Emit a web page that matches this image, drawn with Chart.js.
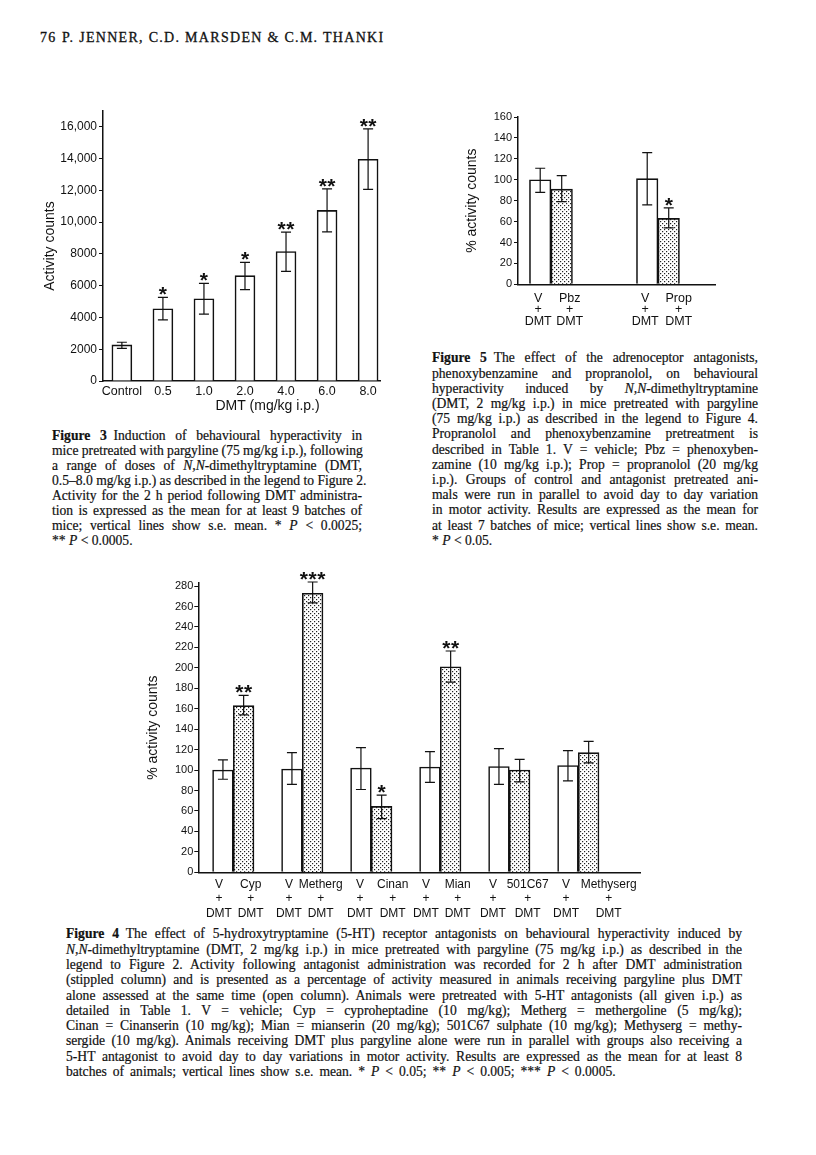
<!DOCTYPE html>
<html><head><meta charset="utf-8">
<script src="https://cdn.jsdelivr.net/npm/chart.js@4.4.0/dist/chart.umd.min.js"></script>
<style>
body{margin:0;background:#fff;}
#page{position:relative;width:816px;height:1155px;overflow:hidden;background:#fff;}
canvas{position:absolute;}
.cap{position:absolute;font-family:"Liberation Serif","Times New Roman",serif;font-size:13.6px;color:#111;-webkit-text-stroke:0.2px #111;}
.cap div{text-align:justify;text-align-last:justify;white-space:nowrap;}
.cap div.last{text-align:left;text-align-last:left;}
.hdr{position:absolute;font-family:"Liberation Serif","Times New Roman",serif;font-size:14px;letter-spacing:1.3px;color:#111;top:30px;-webkit-text-stroke:0.3px #111;}
</style></head>
<body><div id="page">
<div class="hdr" style="left:40px">76</div>
<div class="hdr" style="left:62px">P. JENNER, C.D. MARSDEN &amp; C.M. THANKI</div>

<canvas id="fig3" width="350" height="329" style="left:40px;top:91px;width:350px;height:329px"></canvas>
<canvas id="fig5" width="290" height="235" style="left:440px;top:97px;width:290px;height:235px"></canvas>
<canvas id="fig4" width="510" height="360" style="left:140px;top:563px;width:510px;height:360px"></canvas>

<div class="cap" style="left:52px;top:427.5px;width:310px;line-height:15.1px">
<div><b>Figure 3</b>&ensp;Induction of behavioural hyperactivity in</div>
<div>mice pretreated with pargyline (75 mg/kg i.p.), following</div>
<div>a range of doses of <i>N</i>,<i>N</i>-dimethyltryptamine (DMT,</div>
<div>0.5–8.0 mg/kg i.p.) as described in the legend to Figure 2.</div>
<div>Activity for the 2 h period following DMT administra-</div>
<div>tion is expressed as the mean for at least 9 batches of</div>
<div>mice; vertical lines show s.e. mean. * <i>P</i> &lt; 0.0025;</div>
<div class="last">** <i>P</i> &lt; 0.0005.</div>
</div>

<div class="cap" style="left:432px;top:350.4px;width:326px;line-height:15.2px">
<div><b>Figure 5</b>&ensp;The effect of the adrenoceptor antagonists,</div>
<div>phenoxybenzamine and propranolol, on behavioural</div>
<div>hyperactivity induced by <i>N</i>,<i>N</i>-dimethyltryptamine</div>
<div>(DMT, 2 mg/kg i.p.) in mice pretreated with pargyline</div>
<div>(75 mg/kg i.p.) as described in the legend to Figure 4.</div>
<div>Propranolol and phenoxybenzamine pretreatment is</div>
<div>described in Table 1. V = vehicle; Pbz = phenoxyben-</div>
<div>zamine (10 mg/kg i.p.); Prop = propranolol (20 mg/kg</div>
<div>i.p.). Groups of control and antagonist pretreated ani-</div>
<div>mals were run in parallel to avoid day to day variation</div>
<div>in motor activity. Results are expressed as the mean for</div>
<div>at least 7 batches of mice; vertical lines show s.e. mean.</div>
<div class="last">* <i>P</i> &lt; 0.05.</div>
</div>

<div class="cap" style="left:66px;top:926.4px;width:676px;line-height:15.3px">
<div><b>Figure 4</b>&ensp;The effect of 5-hydroxytryptamine (5-HT) receptor antagonists on behavioural hyperactivity induced by</div>
<div><i>N</i>,<i>N</i>-dimethyltryptamine (DMT, 2 mg/kg i.p.) in mice pretreated with pargyline (75 mg/kg i.p.) as described in the</div>
<div>legend to Figure 2. Activity following antagonist administration was recorded for 2 h after DMT administration</div>
<div>(stippled column) and is presented as a percentage of activity measured in animals receiving pargyline plus DMT</div>
<div>alone assessed at the same time (open column). Animals were pretreated with 5-HT antagonists (all given i.p.) as</div>
<div>detailed in Table 1. V = vehicle; Cyp = cyproheptadine (10 mg/kg); Metherg = methergoline (5 mg/kg);</div>
<div>Cinan = Cinanserin (10 mg/kg); Mian = mianserin (20 mg/kg); 501C67 sulphate (10 mg/kg); Methyserg = methy-</div>
<div>sergide (10 mg/kg). Animals receiving DMT plus pargyline alone were run in parallel with groups also receiving a</div>
<div>5-HT antagonist to avoid day to day variations in motor activity. Results are expressed as the mean for at least 8</div>
<div class="last" style="word-spacing:2.6px">batches of animals; vertical lines show s.e. mean. * <i>P</i> &lt; 0.05; ** <i>P</i> &lt; 0.005; *** <i>P</i> &lt; 0.0005.</div>
</div>
</div>

<script>
// ---------- Figure 3 data ----------
const fig3Doses = ["Control", "0.5", "1.0", "2.0", "4.0", "6.0", "8.0"];
const fig3Means = [2270, 4550, 5180, 6630, 8150, 10740, 13960];
const fig3ErrHigh = [2440, 5260, 6150, 7470, 9370, 12100, 15870];
const fig3ErrLow = [2060, 3850, 4210, 5750, 6900, 9390, 12060];
const fig3Sig = ["", "*", "*", "*", "**", "**", "**"];

// ---------- Figure 5 data ----------
const fig5Drugs = ["Pbz", "Prop"];
const fig5Vehicle = [100, 101];
const fig5VehicleHigh = [111, 126];
const fig5VehicleLow = [88, 76];
const fig5Drug = [91, 63];
const fig5DrugHigh = [104, 73];
const fig5DrugLow = [79, 54];
const fig5Sig = ["", "*"];

// ---------- Figure 4 data ----------
const fig4Drugs = ["Cyp", "Metherg", "Cinan", "Mian", "501C67", "Methyserg"];
const fig4Vehicle = [100, 101, 102, 103, 103.5, 104.5];
const fig4VehicleHigh = [110, 117, 122, 118, 121, 119];
const fig4VehicleLow = [91, 86, 81, 88, 86, 89.5];
const fig4Drug = [163, 273, 64.5, 201, 100, 117];
const fig4DrugHigh = [173, 284, 75.5, 216.5, 110.5, 128];
const fig4DrugLow = [154, 263.5, 52.5, 186, 88.5, 107];
const fig4Sig = ["**", "***", "*", "**", "", ""];

const INK = '#111';
const SANS = '"Liberation Sans", Arial, Helvetica, sans-serif';
Chart.defaults.font.family = SANS;
Chart.defaults.color = INK;

function stipple() {
  const p = document.createElement('canvas');
  p.width = 4; p.height = 4;
  const c = p.getContext('2d');
  c.fillStyle = '#fff'; c.fillRect(0, 0, 4, 4);
  c.fillStyle = '#222';
  c.fillRect(0, 0, 1.2, 1.2);
  c.fillRect(2, 2, 1.2, 1.2);
  return c.createPattern(p, 'repeat');
}
const dots = stipple();

const barExtras = {
  id: 'barExtras',
  afterDatasetsDraw(chart, args, opts) {
    const ctx = chart.ctx;
    const yScale = chart.scales.y;
    const area = chart.chartArea;
    ctx.save();
    chart.data.datasets.forEach((ds, di) => {
      const meta = chart.getDatasetMeta(di);
      meta.data.forEach((el, i) => {
        const x = el.x;
        if (ds.errHi) {
          const yh = yScale.getPixelForValue(ds.errHi[i]);
          const yl = yScale.getPixelForValue(ds.errLo[i]);
          const cap = opts.cap || 5;
          ctx.strokeStyle = INK; ctx.lineWidth = 1.2;
          ctx.beginPath();
          ctx.moveTo(x, yh); ctx.lineTo(x, yl);
          ctx.moveTo(x - cap, yh); ctx.lineTo(x + cap, yh);
          ctx.moveTo(x - cap, yl); ctx.lineTo(x + cap, yl);
          ctx.stroke();
          const s = ds.sig ? ds.sig[i] : '';
          if (s) {
            ctx.fillStyle = INK;
            ctx.font = 'bold 21px ' + SANS;
            ctx.textAlign = 'center'; ctx.textBaseline = 'alphabetic';
            const n = s.length;
            for (let k = 0; k < n; k++) ctx.fillText('*', x + (k - (n - 1) / 2) * 8.7, yh + 4);
          }
        }
        if (ds.barLabels) {
          ctx.fillStyle = INK;
          ctx.font = (opts.labelSize || 12) + 'px ' + SANS;
          ctx.textAlign = 'center'; ctx.textBaseline = 'middle';
          const lines = ds.barLabels[i];
          const dx = Array.isArray(ds.labelDx) ? ds.labelDx[i] : (ds.labelDx || 0);
          lines.forEach((t, k) => {
            ctx.fillText(t, x + dx, area.bottom + opts.labelTop + k * opts.labelGap);
          });
        }
      });
    });
    if (opts.xTitle) {
      ctx.fillStyle = INK;
      ctx.font = '14px ' + SANS;
      ctx.textAlign = 'center'; ctx.textBaseline = 'middle';
      ctx.fillText(opts.xTitle, (area.left + area.right) / 2 + opts.xTitleDx, area.bottom + opts.xTitleDy);
    }
    ctx.restore();
  }
};

function yAxis(max, step, labelEvery, width, fontSize, pad, titleText, filterMax) {
  return {
    type: 'linear', min: 0, max: max,
    grid: { display: true, drawOnChartArea: false, drawTicks: true, tickLength: 4, color: INK, lineWidth: 1 },
    border: { display: true, color: INK, width: 1.5 },
    ticks: {
      stepSize: step, includeBounds: false, padding: pad, color: INK,
      font: { size: fontSize },
      callback: (v) => (v % labelEvery === 0 ? (v >= 10000 ? v.toLocaleString('en-US') : String(v)) : '')
    },
    afterBuildTicks: (s) => { s.ticks = s.ticks.filter(t => t.value <= filterMax); },
    title: { display: true, text: titleText, color: INK, font: { size: 14 }, padding: 0 },
    afterFit: (s) => { s.width = width; }
  };
}

function xAxis(min, max, height, extra) {
  return Object.assign({
    type: 'linear', min: min, max: max, offset: false,
    grid: { display: false, drawTicks: false, offset: false },
    border: { display: true, color: INK, width: 1.5 },
    ticks: { display: false },
    afterFit: (s) => { s.height = height; }
  }, extra || {});
}

const common = {
  responsive: false, animation: false, devicePixelRatio: 1, events: [],
};

// ---------- Figure 3 ----------
new Chart(document.getElementById('fig3'), {
  type: 'bar',
  data: {
    datasets: [{
      data: fig3Means.map((v, i) => ({ x: i, y: v })),
      errHi: fig3ErrHigh, errLo: fig3ErrLow, sig: fig3Sig,
      backgroundColor: '#fff', borderColor: INK, borderWidth: 1.6, barThickness: 20
    }]
  },
  options: Object.assign({}, common, {
    layout: { padding: { top: 20, left: 2, right: 10, bottom: 0 } },
    scales: {
      x: xAxis(-0.46, 6.29, 39, {
        ticks: { display: true, autoSkip: false, maxRotation: 0, padding: 3, color: INK, font: { size: 12.5 },
          callback: (v) => fig3Doses[v] },
        afterBuildTicks: (s) => { s.ticks = fig3Doses.map((_, i) => ({ value: i })); }
      }),
      y: yAxis(17000, 1000, 2000, 61, 12, 2, 'Activity counts', 16000)
    },
    plugins: {
      legend: { display: false }, tooltip: { enabled: false },
      barExtras: { cap: 5, xTitle: 'DMT (mg/kg i.p.)', xTitleDx: 26, xTitleDy: 25 }
    }
  }),
  plugins: [barExtras]
});

// ---------- Figure 5 ----------
new Chart(document.getElementById('fig5'), {
  type: 'bar',
  data: {
    datasets: [{
      data: fig5Vehicle.map((v, i) => ({ x: i + 1, y: v })),
      errHi: fig5VehicleHigh, errLo: fig5VehicleLow,
      barLabels: fig5Drugs.map(() => ['V', '+', 'DMT']), labelDx: [-2, -2],
      backgroundColor: '#fff', borderColor: INK, borderWidth: 1.6, barThickness: 21.5
    }, {
      data: fig5Drug.map((v, i) => ({ x: i + 1, y: v })),
      errHi: fig5DrugHigh, errLo: fig5DrugLow, sig: fig5Sig,
      barLabels: fig5Drugs.map(d => [d, '+', 'DMT']), labelDx: [8, 10],
      backgroundColor: dots, borderColor: INK, borderWidth: 1.6, barThickness: 21.5
    }]
  },
  options: Object.assign({}, common, {
    layout: { padding: { top: 20, left: 23.3, right: 15, bottom: 0 } },
    scales: {
      x: xAxis(0.692, 2.533, 47.7),
      y: yAxis(160, 10, 20, 54.7, 11, 2, '% activity counts', 160)
    },
    plugins: {
      legend: { display: false }, tooltip: { enabled: false },
      barExtras: { cap: 5, labelTop: 14, labelGap: 11.7, labelSize: 12.5 }
    }
  }),
  plugins: [barExtras]
});

// ---------- Figure 4 ----------
new Chart(document.getElementById('fig4'), {
  type: 'bar',
  data: {
    datasets: [{
      data: fig4Vehicle.map((v, i) => ({ x: i + 1, y: v })),
      errHi: fig4VehicleHigh, errLo: fig4VehicleLow,
      barLabels: fig4Drugs.map(() => ['V', '+', 'DMT']), labelDx: [-4, -3, -1, -4, -6, -2],
      backgroundColor: '#fff', borderColor: INK, borderWidth: 1.6, barThickness: 20.7
    }, {
      data: fig4Drug.map((v, i) => ({ x: i + 1, y: v })),
      errHi: fig4DrugHigh, errLo: fig4DrugLow, sig: fig4Sig,
      barLabels: fig4Drugs.map(d => [d, '+', 'DMT']), labelDx: [7, 8, 11, 7, 8, 20],
      backgroundColor: dots, borderColor: INK, borderWidth: 1.6, barThickness: 20.7
    }]
  },
  options: Object.assign({}, common, {
    layout: { padding: { top: 20, left: 4.9, right: 10, bottom: 0 } },
    scales: {
      x: xAxis(0.493, 6.894, 50.7),
      y: yAxis(283, 10, 20, 53.4, 11, 1, '% activity counts', 280)
    },
    plugins: {
      legend: { display: false }, tooltip: { enabled: false },
      barExtras: { cap: 5, labelTop: 12.7, labelGap: 14.1, labelSize: 12 }
    }
  }),
  plugins: [barExtras]
});
</script>
</body></html>
